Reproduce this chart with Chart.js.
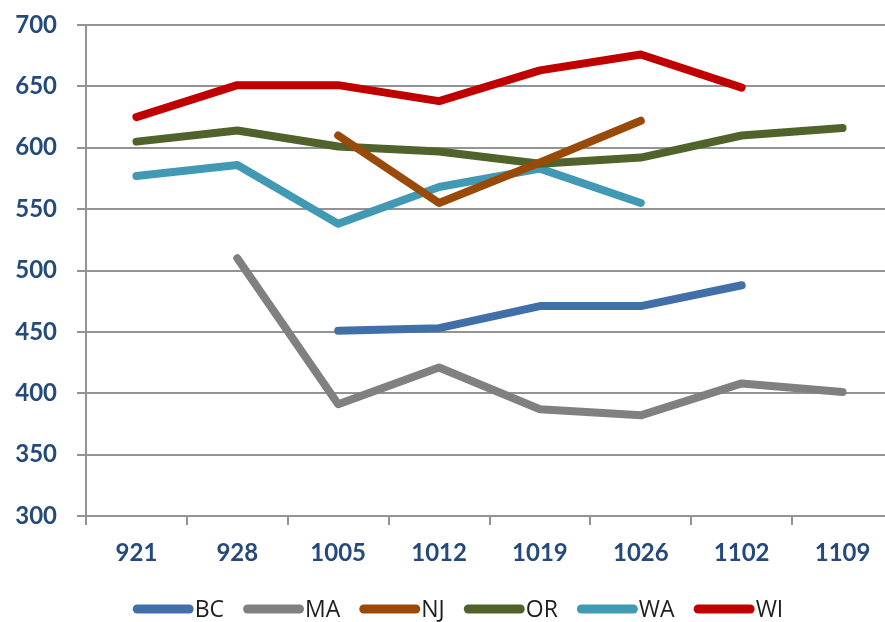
<!DOCTYPE html>
<html>
<head>
<meta charset="utf-8">
<script src="https://cdn.jsdelivr.net/npm/chart.js@4/dist/chart.umd.min.js"></script>
<style>
  html, body { margin: 0; padding: 0; background: #fff; overflow: hidden; }
  #wrap { width: 900px; height: 622px; }
</style>
</head>
<body>
<div id="wrap"><canvas id="c" width="900" height="622"></canvas></div>
<script>
// Weekly scores by site (week codes MDD)
const categories = ['921', '928', '1005', '1012', '1019', '1026', '1102', '1109'];
const seriesNames = ['BC', 'MA', 'NJ', 'OR', 'WA', 'WI'];
const bcValues = [null, null, 451, 453, 471, 471, 488, null];
const maValues = [null, 510, 391, 421, 387, 382, 408, 401];
const njValues = [null, null, 610, 555, 588, 622, null, null];
const orValues = [605, 614, 601, 597, 587, 592, 610, 616];
const waValues = [577, 586, 538, 568, 583, 555, null, null];
const wiValues = [625, 651, 651, 638, 663, 676, 649, null];
const yTicks = [300, 350, 400, 450, 500, 550, 600, 650, 700];

const colors = ['#4170A9', '#808080', '#9A4A08', '#50632A', '#4199B3', '#C00000'];
const values = [bcValues, maValues, njValues, orValues, waValues, wiValues];

const axisGray = '#939393';
const labelBlue = '#24497B';

const datasets = seriesNames.map((name, i) => ({
  label: name,
  data: values[i],
  borderColor: colors[i],
  backgroundColor: colors[i],
  borderWidth: 8,
  borderCapStyle: 'round',
  borderJoinStyle: 'round',
  pointRadius: 0,
  pointHoverRadius: 0,
  tension: 0,
  spanGaps: false,
  fill: false
}));

// Legend row: rounded line sample followed by the series name
const lineLegend = {
  id: 'lineLegend',
  afterDraw(chart) {
    const ctx = chart.ctx;
    const y = 609;
    const sample = 61;
    const gap = 1;
    const spacing = 19;
    ctx.save();
    ctx.font = '23px "Liberation Sans Narrow", "Open Sans", sans-serif';
    ctx.textBaseline = 'middle';
    const items = chart.data.datasets.map(ds => ({
      ds, w: sample + gap + ctx.measureText(ds.label).width
    }));
    const total = items.reduce((s, it) => s + it.w, 0) + spacing * (items.length - 1);
    let x = 458 - total / 2;
    items.forEach(it => {
      ctx.strokeStyle = it.ds.borderColor;
      ctx.lineWidth = 9;
      ctx.lineCap = 'round';
      ctx.beginPath();
      ctx.moveTo(x + 4.5, y);
      ctx.lineTo(x + sample - 4.5, y);
      ctx.stroke();
      ctx.fillStyle = '#1E1E1E';
      ctx.fillText(it.ds.label, x + sample + gap, y + 1);
      x += it.w + spacing;
    });
    ctx.restore();
  }
};

new Chart(document.getElementById('c'), {
  type: 'line',
  data: { labels: categories, datasets },
  options: {
    responsive: false,
    animation: false,
    layout: { padding: { top: 25, right: 7, bottom: 0, left: 0 } },
    plugins: {
      legend: { display: false },
      tooltip: { enabled: false }
    },
    scales: {
      x: {
        offset: true,
        afterFit(scale) {
          scale.height = 106;
          scale.paddingLeft = 0;
          scale.paddingRight = 0;
        },
        grid: {
          display: true,
          offset: true,
          drawOnChartArea: false,
          drawTicks: true,
          tickLength: 9,
          color: axisGray,
          lineWidth: 2
        },
        border: { display: true, color: axisGray, width: 2 },
        ticks: {
          padding: 14,
          color: labelBlue,
          font: { family: 'Lato, "Open Sans", sans-serif', size: 24, weight: 'bold' },
          maxRotation: 0,
          autoSkip: false
        }
      },
      y: {
        min: yTicks[0],
        max: yTicks[yTicks.length - 1],
        afterFit(scale) {
          scale.width = 86;
          scale.paddingTop = 0;
          scale.paddingBottom = 0;
        },
        afterBuildTicks(scale) { scale.ticks = yTicks.map(v => ({ value: v })); },
        grid: {
          color: axisGray,
          lineWidth: 2,
          drawTicks: true,
          tickLength: 9
        },
        border: { display: true, color: axisGray, width: 2 },
        ticks: {
          padding: 20,
          color: labelBlue,
          font: { family: 'Lato, "Open Sans", sans-serif', size: 24, weight: 'bold' }
        }
      }
    }
  },
  plugins: [lineLegend]
});
</script>
</body>
</html>
